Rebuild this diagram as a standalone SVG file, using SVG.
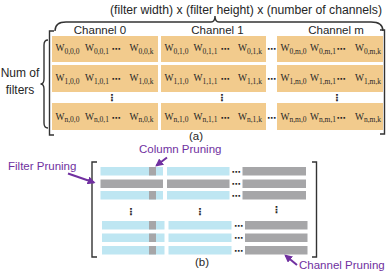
<svg xmlns="http://www.w3.org/2000/svg" width="391" height="272" viewBox="0 0 391 272">
<defs>
<style>
.t{font-family:"Liberation Sans",Arial,sans-serif;fill:#262626}
.p{font-family:"Liberation Sans",Arial,sans-serif;fill:#7030A0;font-size:11.5px}
.w{font-family:"Liberation Serif","Times New Roman",serif;font-size:9.5px;fill:#262626}
.s{font-size:7.5px}
.cell{fill:#F2CB8D}
.d{font-family:"DejaVu Sans",sans-serif;font-size:9px;fill:#262626;text-anchor:middle;font-weight:bold}
.v{font-family:"DejaVu Sans",sans-serif;font-size:10px;fill:#262626;text-anchor:middle;font-weight:bold}
.br{fill:none;stroke:#333;stroke-width:1.4}
.bl{fill:#BEE6F2}
.gr{fill:#A6A6A8}
.arr{stroke:#7030A0;stroke-width:2;fill:none}
</style>
<marker id="ah" viewBox="0 0 10 10" refX="8" refY="5" markerWidth="4" markerHeight="4" orient="auto" markerUnits="strokeWidth">
<path d="M0,0 L10,5 L0,10 Z" fill="#7030A0"/>
</marker>
</defs>
<rect width="391" height="272" fill="#fff"/>

<!-- Part (a) -->
<g id="top-label">
<text class="t" x="246" y="14" font-size="12" text-anchor="middle" textLength="272" lengthAdjust="spacingAndGlyphs">(filter width) x (filter height) x (number of channels)</text>
<path class="br" stroke-width="1" d="M55,31 Q55,22 66,22 L211,22 Q215,22 215,16 Q215,22 219,22 L371,22 Q383,22 383,31"/>
</g>
<g id="num-filters">
<text class="t" x="20" y="77" font-size="12" text-anchor="middle">Num of</text>
<text class="t" x="20" y="94" font-size="12" text-anchor="middle">filters</text>
<path class="br" stroke-width="1" d="M48,40 Q44,40 44,45 L44,79 Q44,84 40.5,84 Q44,84 44,89 L44,123 Q44,128 48,128"/>
</g>
<g id="brackets-a">
<path class="br" d="M54,31 L49.5,31 L49.5,135 L54,135"/>
<path class="br" d="M380,30 L384.5,30 L384.5,134 L380,134"/>
</g>

<g id="channel0">
<text class="t" x="100" y="34" font-size="11.5" text-anchor="middle">Channel 0</text>
<rect class="cell" x="52" y="36" width="106" height="26"/>
<rect class="cell" x="52" y="65" width="106" height="27"/>
<rect class="cell" x="52" y="103" width="106" height="27"/>
<text class="w" x="55.5" y="51">W<tspan class="s" dy="2.5">0,0,0</tspan></text>
<text class="w" x="85" y="51">W<tspan class="s" dy="2.5">0,0,1</tspan></text>
<text class="d" x="116" y="52">⋯</text>
<text class="w" x="129.5" y="51">W<tspan class="s" dy="2.5">0,0,k</tspan></text>
<text class="w" x="55.5" y="81">W<tspan class="s" dy="2.5">1,0,0</tspan></text>
<text class="w" x="85" y="81">W<tspan class="s" dy="2.5">1,0,1</tspan></text>
<text class="d" x="116" y="82">⋯</text>
<text class="w" x="129.5" y="81">W<tspan class="s" dy="2.5">1,0,k</tspan></text>
<text class="v" x="112" y="101">⋮</text>
<text class="w" x="55.5" y="119.5">W<tspan class="s" dy="2.5">n,0,0</tspan></text>
<text class="w" x="85" y="119.5">W<tspan class="s" dy="2.5">n,0,1</tspan></text>
<text class="d" x="116" y="120.5">⋯</text>
<text class="w" x="129.5" y="119.5">W<tspan class="s" dy="2.5">n,0,k</tspan></text>
</g>

<g id="channel1">
<text class="t" x="217.5" y="34" font-size="11.5" text-anchor="middle">Channel 1</text>
<rect class="cell" x="161" y="36" width="105" height="26"/>
<rect class="cell" x="161" y="65" width="105" height="27"/>
<rect class="cell" x="161" y="103" width="105" height="27"/>
<text class="w" x="164.5" y="51">W<tspan class="s" dy="2.5">0,1,0</tspan></text>
<text class="w" x="193.5" y="51">W<tspan class="s" dy="2.5">0,1,1</tspan></text>
<text class="d" x="225" y="52">⋯</text>
<text class="w" x="238" y="51">W<tspan class="s" dy="2.5">0,1,k</tspan></text>
<text class="w" x="164.5" y="81">W<tspan class="s" dy="2.5">1,1,0</tspan></text>
<text class="w" x="193.5" y="81">W<tspan class="s" dy="2.5">1,1,1</tspan></text>
<text class="d" x="225" y="82">⋯</text>
<text class="w" x="238" y="81">W<tspan class="s" dy="2.5">1,1,k</tspan></text>
<text class="v" x="222" y="101">⋮</text>
<text class="w" x="164.5" y="119.5">W<tspan class="s" dy="2.5">n,1,0</tspan></text>
<text class="w" x="193.5" y="119.5">W<tspan class="s" dy="2.5">n,1,1</tspan></text>
<text class="d" x="225" y="120.5">⋯</text>
<text class="w" x="238" y="119.5">W<tspan class="s" dy="2.5">n,1,k</tspan></text>
</g>

<g id="gap-dots">
<text class="d" x="271.5" y="52">⋯</text>
<text class="d" x="271.5" y="82">⋯</text>
<text class="d" x="271.5" y="120.5">⋯</text>
</g>

<g id="channelm">
<text class="t" x="336" y="34" font-size="11.5" text-anchor="middle">Channel m</text>
<rect class="cell" x="277" y="36" width="106" height="26"/>
<rect class="cell" x="277" y="65" width="106" height="27"/>
<rect class="cell" x="277" y="103" width="106" height="27"/>
<text class="w" x="280.5" y="51">W<tspan class="s" dy="2.5">0,m,0</tspan></text>
<text class="w" x="310" y="51">W<tspan class="s" dy="2.5">0,m,1</tspan></text>
<text class="d" x="341" y="52">⋯</text>
<text class="w" x="355" y="51">W<tspan class="s" dy="2.5">0,m,k</tspan></text>
<text class="w" x="280.5" y="81">W<tspan class="s" dy="2.5">1,m,0</tspan></text>
<text class="w" x="310" y="81">W<tspan class="s" dy="2.5">1,m,1</tspan></text>
<text class="d" x="341" y="82">⋯</text>
<text class="w" x="355" y="81">W<tspan class="s" dy="2.5">1,m,k</tspan></text>
<text class="v" x="337" y="101">⋮</text>
<text class="w" x="280.5" y="119.5">W<tspan class="s" dy="2.5">n,m,0</tspan></text>
<text class="w" x="310" y="119.5">W<tspan class="s" dy="2.5">n,m,1</tspan></text>
<text class="d" x="341" y="120.5">⋯</text>
<text class="w" x="355" y="119.5">W<tspan class="s" dy="2.5">n,m,k</tspan></text>
</g>

<text class="t" x="196" y="139.5" font-size="11.5" text-anchor="middle">(a)</text>

<!-- Part (b) -->
<g id="brackets-b">
<path class="br" d="M97,162 L92,162 L92,257 L97,257"/>
<path class="br" d="M312,162 L316.5,162 L316.5,257 L312,257"/>
</g>

<g id="bars-top">
<rect class="bl" x="100.5" y="167" width="62.5" height="8.5"/>
<rect class="gr" x="149" y="167" width="7" height="8.5"/>
<rect class="bl" x="167" y="167" width="62.5" height="8.5"/>
<rect class="gr" x="242.5" y="167" width="63.5" height="8.5"/>
<rect class="gr" x="100.5" y="179.5" width="62.5" height="8.5"/>
<rect class="gr" x="167" y="179.5" width="62.5" height="8.5"/>
<rect class="gr" x="242.5" y="179.5" width="63.5" height="8.5"/>
<rect class="bl" x="100.5" y="191" width="62.5" height="8.5"/>
<rect class="gr" x="149" y="191" width="7" height="8.5"/>
<rect class="bl" x="167" y="191" width="62.5" height="8.5"/>
<rect class="gr" x="242.5" y="191" width="63.5" height="8.5"/>
<text class="d" x="236" y="174.5" font-size="11">⋯</text>
<text class="d" x="236" y="187" font-size="11">⋯</text>
<text class="d" x="236" y="198.5" font-size="11">⋯</text>
</g>

<g id="bars-vdots">
<text class="v" x="131" y="215">⋮</text>
<text class="v" x="200" y="215">⋮</text>
<text class="v" x="276.5" y="213">⋮</text>
</g>

<g id="bars-bottom">
<rect class="bl" x="102" y="221" width="62.5" height="8.5"/>
<rect class="gr" x="149" y="221" width="7" height="8.5"/>
<rect class="bl" x="168.5" y="221" width="63" height="8.5"/>
<rect class="gr" x="245" y="221" width="62.5" height="8.5"/>
<rect class="bl" x="102" y="233.5" width="62.5" height="8.5"/>
<rect class="gr" x="149" y="233.5" width="7" height="8.5"/>
<rect class="bl" x="168.5" y="233.5" width="63" height="8.5"/>
<rect class="gr" x="245" y="233.5" width="62.5" height="8.5"/>
<rect class="bl" x="102" y="246" width="62.5" height="8.5"/>
<rect class="gr" x="149" y="246" width="7" height="8.5"/>
<rect class="bl" x="168.5" y="246" width="63" height="8.5"/>
<rect class="gr" x="245" y="246" width="62.5" height="8.5"/>
<text class="d" x="238.5" y="228.5" font-size="11">⋯</text>
<text class="d" x="238.5" y="241" font-size="11">⋯</text>
<text class="d" x="238.5" y="253.5" font-size="11">⋯</text>
</g>

<g id="labels-b">
<text class="p" x="139" y="152.5">Column Pruning</text>
<text class="p" x="8" y="169.5">Filter Pruning</text>
<text class="p" x="299" y="268.5">Channel Pruning</text>
<text class="t" x="202" y="265.5" font-size="11.5" text-anchor="middle">(b)</text>
</g>

<g id="connectors">
<line class="arr" x1="68" y1="173.5" x2="94" y2="182.5" marker-end="url(#ah)"/>
<line class="arr" x1="167" y1="157.5" x2="156.5" y2="165.5" marker-end="url(#ah)"/>
<line class="arr" x1="297" y1="265" x2="285.5" y2="255.5" marker-end="url(#ah)"/>
</g>
</svg>
